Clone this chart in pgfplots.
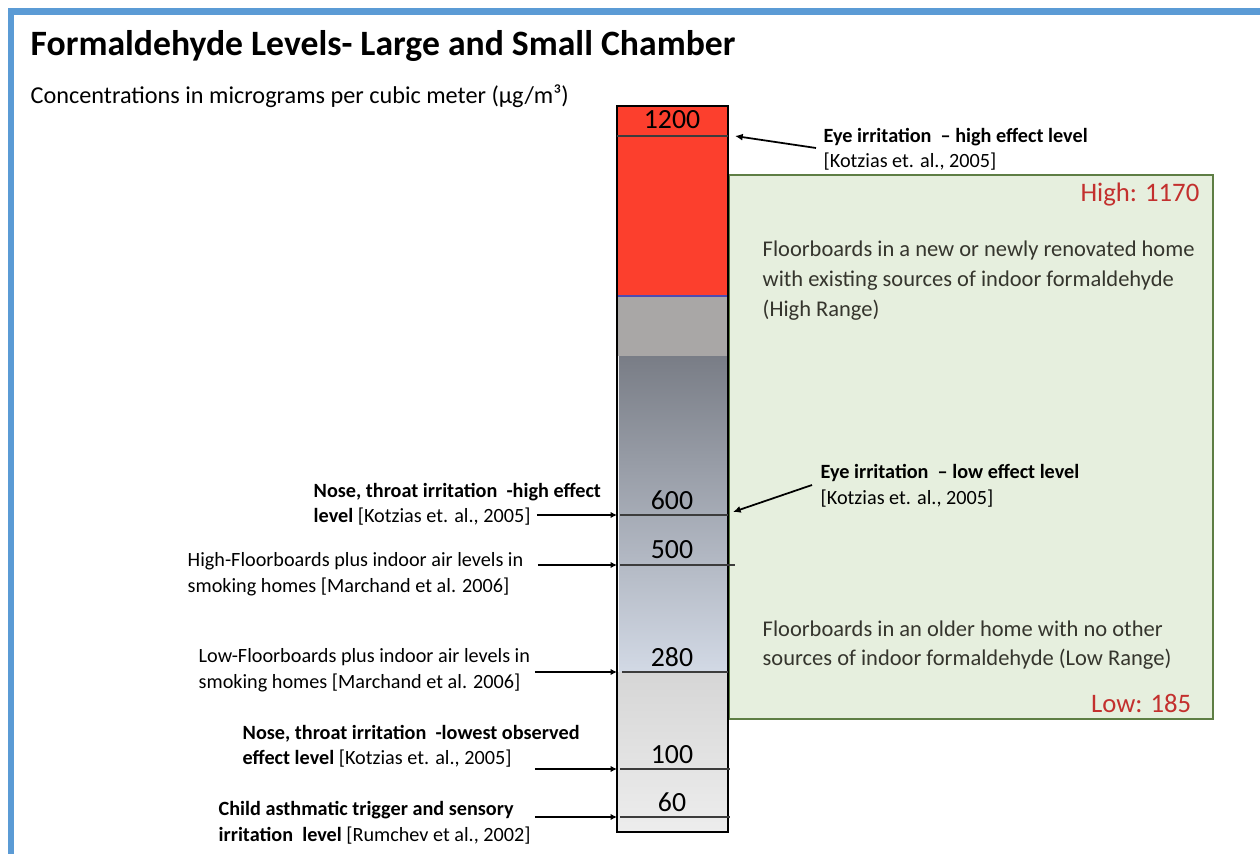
\documentclass[border=0pt]{standalone}
\usepackage{pgfplots}
\pgfplotsset{compat=1.18}
\usepackage{pgfplotstable}
\usepackage{fontspec}
\setmainfont{Carlito}
\usetikzlibrary{arrows.meta}
\definecolor{frameblue}{HTML}{5B9BD5}
\definecolor{barred}{HTML}{FC3F2D}
\definecolor{band}{HTML}{A9A7A6}
\definecolor{gradtop}{HTML}{797D86}
\definecolor{gradbot}{HTML}{D2D9E5}
\definecolor{lowtop}{HTML}{D6D6D6}
\definecolor{lowbot}{HTML}{EDEDED}
\definecolor{boxfill}{HTML}{E6EFDE}
\definecolor{boxdraw}{HTML}{5E7E44}
\definecolor{hired}{HTML}{C3302E}
\definecolor{boxtext}{HTML}{35352D}
\definecolor{levelgray}{HTML}{3C3C3C}
\pgfplotstableread{
value ypos x0 x1
1200 136 617 728
600 515 620 728
500 565 620 735
280 672 622 728
100 769 620 730
60 817 620 730
}\levels
\newcommand{\lab}{\fontsize{5.75pt}{6.8pt}\selectfont}
\newcommand{\num}{\fontsize{7.9pt}{9pt}\selectfont}
\newcommand{\boxt}{\fontsize{6.4pt}{7.6pt}\selectfont}
\begin{document}
\begin{tikzpicture}
\begin{axis}[width=12.6cm,height=8.54cm,scale only axis,
  xmin=0,xmax=1260,ymin=0,ymax=854,y dir=reverse,hide axis,clip=false]
\fill[white] (axis cs:0,0) rectangle (axis cs:1260,854);
% frame
\fill[frameblue] (axis cs:8,8) rectangle (axis cs:1260,15);
\fill[frameblue] (axis cs:8,8) rectangle (axis cs:14,854);
% titles
\node[anchor=base west,inner sep=0,font=\fontsize{10.15pt}{12pt}\selectfont\bfseries] at (axis cs:30,56) {Formaldehyde Levels- Large and Small Chamber};
\node[anchor=base west,inner sep=0,font=\fontsize{6.9pt}{8pt}\selectfont] at (axis cs:30,104) {Concentrations in micrograms per cubic meter (µg/m³)};
% green box
\fill[boxfill,draw=boxdraw,line width=0.6pt] (axis cs:729,175) rectangle (axis cs:1213,719);
% bar segments
\fill[barred] (axis cs:617,106) rectangle (axis cs:728,296);
\fill[band] (axis cs:617,296) rectangle (axis cs:728,356);
\shade[top color=gradtop,bottom color=gradbot] (axis cs:619,356) rectangle (axis cs:728,672);
\shade[top color=lowtop,bottom color=lowbot] (axis cs:617,672) rectangle (axis cs:728,832);
\draw[color=blue!40!gray,line width=0.3pt] (axis cs:617,296) -- (axis cs:728,296);
\draw[black,line width=0.6pt] (axis cs:617,106) rectangle (axis cs:728,832);
% level lines
\pgfplotsinvokeforeach{0,...,5}{
  \pgfplotstablegetelem{#1}{ypos}\of\levels \edef\yy{\pgfplotsretval}
  \pgfplotstablegetelem{#1}{x0}\of\levels \edef\xa{\pgfplotsretval}
  \pgfplotstablegetelem{#1}{x1}\of\levels \edef\xb{\pgfplotsretval}
  \edef\tmp{\noexpand\addplot[levelgray,line width=0.6pt,forget plot] coordinates {(\xa,\yy) (\xb,\yy)};}
  \tmp
}
% level numbers
\node[anchor=base,inner sep=0,font=\num] at (axis cs:672,129) {1200};
\node[anchor=base,inner sep=0,font=\num] at (axis cs:672,509) {600};
\node[anchor=base,inner sep=0,font=\num] at (axis cs:672,558) {500};
\node[anchor=base,inner sep=0,font=\num] at (axis cs:672,666) {280};
\node[anchor=base,inner sep=0,font=\num] at (axis cs:672,763) {100};
\node[anchor=base,inner sep=0,font=\num] at (axis cs:672,811) {60};
% left arrows
\addplot[black,line width=0.4pt,-{Latex[length=1.8pt,width=1.8pt]}] coordinates {(537,515) (617,515)};
\addplot[black,line width=0.4pt,-{Latex[length=1.8pt,width=1.8pt]}] coordinates {(538,565) (617,565)};
\addplot[black,line width=0.4pt,-{Latex[length=1.8pt,width=1.8pt]}] coordinates {(535,672) (617,672)};
\addplot[black,line width=0.4pt,-{Latex[length=1.8pt,width=1.8pt]}] coordinates {(535,769) (617,769)};
\addplot[black,line width=0.4pt,-{Latex[length=1.8pt,width=1.8pt]}] coordinates {(535,817) (617,817)};
% right arrows
\addplot[black,line width=0.5pt,-{Latex[length=2.2pt,width=2pt]}] coordinates {(816,148) (735,136)};
\addplot[black,line width=0.5pt,-{Latex[length=2.2pt,width=2pt]}] coordinates {(812,485) (733,512)};
% left labels
\node[anchor=base west,inner sep=0,font=\lab\bfseries] at (axis cs:313,497) {Nose, throat irritation\ \ -high effect};
\node[anchor=base west,inner sep=0,font=\lab] at (axis cs:313,522) {\textbf{level} [Kotzias et. al., 2005]};
\node[anchor=base west,inner sep=0,font=\lab] at (axis cs:187,566) {High-Floorboards plus indoor air levels in};
\node[anchor=base west,inner sep=0,font=\lab] at (axis cs:187,592) {smoking homes [Marchand et al. 2006]};
\node[anchor=base west,inner sep=0,font=\lab] at (axis cs:198,662) {Low-Floorboards plus indoor air levels in};
\node[anchor=base west,inner sep=0,font=\lab] at (axis cs:198,688) {smoking homes [Marchand et al. 2006]};
\node[anchor=base west,inner sep=0,font=\lab\bfseries] at (axis cs:242,739) {Nose, throat irritation\ \ -lowest observed};
\node[anchor=base west,inner sep=0,font=\lab] at (axis cs:242,764) {\textbf{effect level} [Kotzias et. al., 2005]};
\node[anchor=base west,inner sep=0,font=\lab\bfseries] at (axis cs:218,815) {Child asthmatic trigger and sensory};
\node[anchor=base west,inner sep=0,font=\lab] at (axis cs:218,841) {\textbf{irritation\ \ level} [Rumchev et al., 2002]};
% right labels
\node[anchor=base west,inner sep=0,font=\lab\bfseries] at (axis cs:823,143) {Eye irritation\ \ -- high effect level};
\node[anchor=base west,inner sep=0,font=\lab] at (axis cs:823,168) {[Kotzias et. al., 2005]};
\node[anchor=base west,inner sep=0,font=\lab\bfseries] at (axis cs:820,478) {Eye irritation\ \ -- low effect level};
\node[anchor=base west,inner sep=0,font=\lab] at (axis cs:820,504) {[Kotzias et. al., 2005]};
% box texts
\node[anchor=base east,inner sep=0,text=hired,font=\fontsize{7.6pt}{9pt}\selectfont] at (axis cs:1200,202) {High: 1170};
\node[anchor=base east,inner sep=0,text=hired,font=\fontsize{7.6pt}{9pt}\selectfont] at (axis cs:1192,712) {Low: 185};
\node[anchor=base west,inner sep=0,text=boxtext,font=\boxt] at (axis cs:762,257) {Floorboards in a new or newly renovated home};
\node[anchor=base west,inner sep=0,text=boxtext,font=\boxt] at (axis cs:762,287) {with existing sources of indoor formaldehyde};
\node[anchor=base west,inner sep=0,text=boxtext,font=\boxt] at (axis cs:762,317) {(High Range)};
\node[anchor=base west,inner sep=0,text=boxtext,font=\boxt] at (axis cs:762,636) {Floorboards in an older home with no other};
\node[anchor=base west,inner sep=0,text=boxtext,font=\boxt] at (axis cs:762,665) {sources of indoor formaldehyde (Low Range)};
\end{axis}
\end{tikzpicture}
\end{document}
